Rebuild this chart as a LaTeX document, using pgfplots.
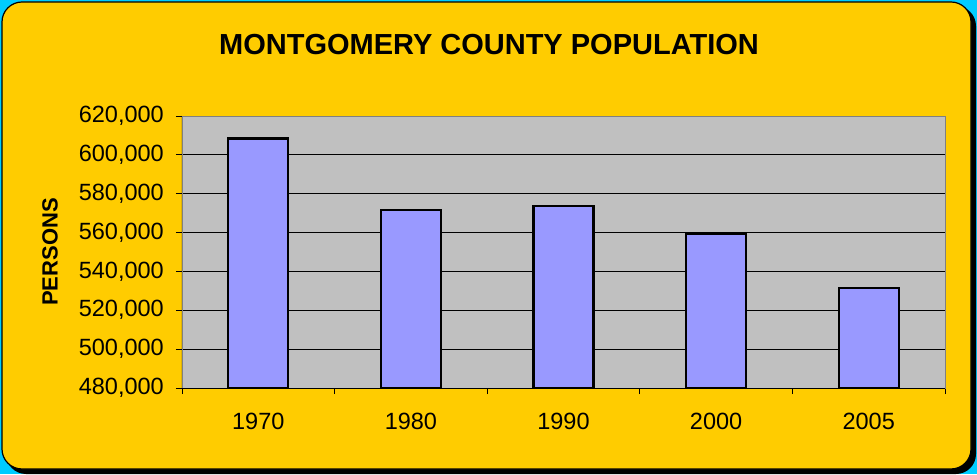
\documentclass[border=0pt]{standalone}
\usepackage{fontspec}
\setmainfont{Liberation Sans}
\usepackage{pgfplots}
\pgfplotsset{compat=1.18}
\definecolor{gold}{HTML}{FFCC00}
\definecolor{skyc}{HTML}{00CCFF}
\definecolor{plotgray}{HTML}{C0C0C0}
\definecolor{barblue}{HTML}{9999FF}
\begin{document}
\begin{tikzpicture}[x=1pt,y=1pt]
\useasboundingbox (0,0) rectangle (977,474);
\fill[skyc] (0,0) rectangle (977,474);
\fill[black, rounded corners=20pt] (6,0) rectangle (976,468);
\filldraw[fill=gold, draw=black, line width=1.2pt, rounded corners=20pt] (2,5) rectangle (971,472);
\node[font=\fontsize{29}{29}\selectfont\bfseries] at (489,429) {MONTGOMERY COUNTY POPULATION};
\begin{axis}[
  at={(182pt,86pt)}, anchor=south west,
  width=763pt, height=272pt, scale only axis,
  xmin=-0.5, xmax=4.5, ymin=480000, ymax=620000,
  ytick={480000,500000,520000,540000,560000,580000,600000,620000},
  yticklabels={{480,000},{500,000},{520,000},{540,000},{560,000},{580,000},{600,000},{620,000}},
  xtick={-0.5,0.5,1.5,2.5,3.5,4.5},
  xticklabels={1970,1980,1990,2000,2005},
  x tick label as interval,
  xtick pos=bottom, ytick pos=left,
  scaled y ticks=false,
  axis background/.style={fill=plotgray},
  axis line style={draw=gray},
  ymajorgrids, major grid style={black, line width=0.8pt},
  tick align=outside, major tick length=6pt,
  tick style={black, line width=0.8pt},
  ticklabel style={font=\fontsize{23.5}{23.5}\selectfont},
  yticklabel style={inner sep=0pt, xshift=-12pt},
  xticklabel style={inner sep=0pt, yshift=-19pt},
  ylabel={PERSONS},
  ylabel style={at={(axis description cs:-0.173,0.5)}, anchor=center, font=\fontsize{22}{22}\selectfont\bfseries},
  ybar, bar width=60pt,
]
\addplot[fill=barblue, draw=black, line width=2.2pt] coordinates {
  (0,608413) (1,571697) (2,573809) (3,559062) (4,531500)
};
\draw[black, line width=1pt] (rel axis cs:0,1) -- (rel axis cs:0,0) -- (rel axis cs:1,0);
\end{axis}
\end{tikzpicture}
\end{document}
